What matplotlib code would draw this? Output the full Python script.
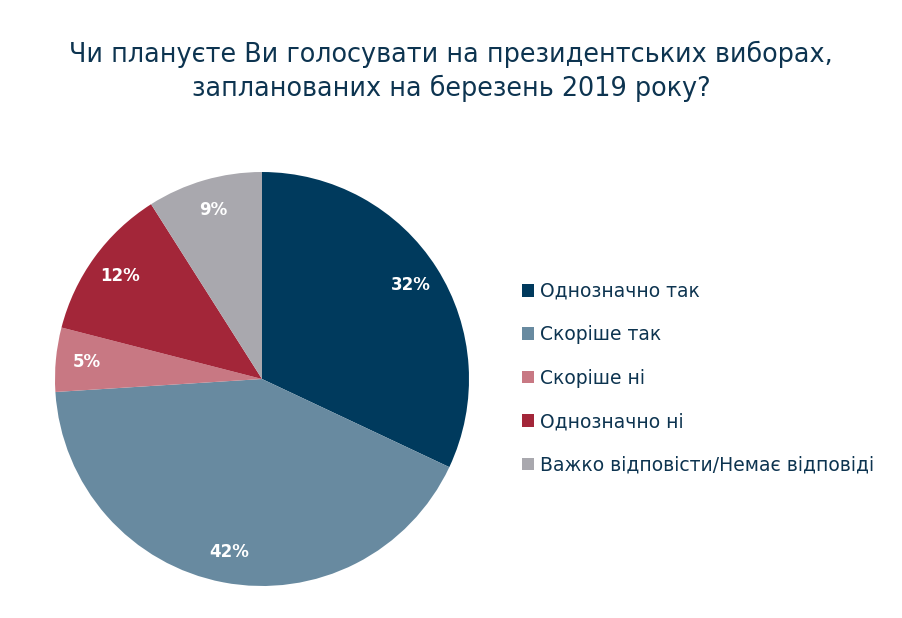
import matplotlib
matplotlib.use("Agg")
import matplotlib.pyplot as plt
from matplotlib.patches import Patch

# survey answers, % of respondents
labels = ["Однозначно так", "Скоріше так", "Скоріше ні",
          "Однозначно ні", "Важко відповісти/Немає відповіді"]
shares = [32, 42, 5, 12, 9]
colors = ["#003A5D", "#688AA0", "#C87883", "#A32639", "#A9A8AE"]

title = "Чи плануєте Ви голосувати на президентських виборах,\nзапланованих на березень 2019 року?"
text_col = "#0D3450"

fig = plt.figure(figsize=(9.02, 6.18), dpi=100)
fig.text(0.5, 0.934, title, ha="center", va="top", fontsize=18.4,
         color=text_col, linespacing=1.3,
         family=["Liberation Sans Narrow", "DejaVu Sans"])

ax = fig.add_axes([55 / 902, 32 / 618, 414 / 902, 414 / 618])
wedges, _, autotexts = ax.pie(shares, colors=colors, startangle=90,
                              counterclock=False, autopct="%d%%",
                              pctdistance=0.85,
                              wedgeprops=dict(linewidth=0))
for t in autotexts:
    t.set_color("white")
    t.set_fontsize(12)
    t.set_fontweight("bold")
ax.set_xlim(-1, 1)
ax.set_ylim(-1, 1)
ax.set_aspect("equal")

handles = [Patch(facecolor=c, edgecolor="none") for c in colors]
fig.legend(handles, labels, loc="upper left",
           bbox_to_anchor=(505 / 902, 1 - 265 / 618), frameon=False,
           fontsize=13.5, labelcolor=text_col, handlelength=0.65,
           handleheight=0.65, handletextpad=0.3, labelspacing=1.3)

fig.savefig("out.png", dpi=100)
